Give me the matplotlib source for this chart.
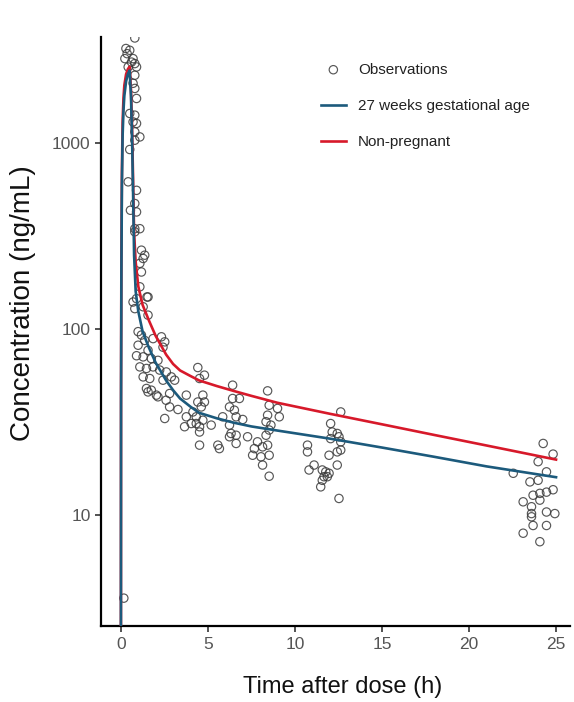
import matplotlib
matplotlib.use('Agg')
import matplotlib.pyplot as plt
import numpy as np

plt.rcParams['font.family'] = ['Liberation Sans', 'DejaVu Sans']

# model predictions
t_curve = [0, 0.01, 0.03, 0.06, 0.1, 0.15, 0.2, 0.3, 0.4, 0.5, 0.58, 0.64, 0.7,
           0.76, 0.85, 1.0, 1.25, 1.6, 2.0, 2.6, 3.0, 3.4, 4.0, 4.5, 5.5, 6.5,
           7.5, 9.0, 12.0, 15.0, 18.0, 21.0, 25.0]
preg_27wk = [0.5, 40, 200, 600, 1100, 1500, 1800, 2150, 2350, 2460, 1800, 1100,
             550, 250, 160, 125, 97, 80, 66, 53, 47, 42.4, 38.3, 35.5, 33.2,
             31.4, 30.0, 28.5, 25.8, 23.1, 20.6, 18.3, 16.0]
non_preg = [0.5, 50, 250, 700, 1300, 1750, 2050, 2350, 2500, 2580, 1950, 1250,
            650, 330, 230, 170, 135, 112, 92, 73, 65, 60, 56, 53, 49.5, 46.5,
            43.8, 40.2, 35.1, 30.8, 27.0, 23.7, 19.9]

# observed concentrations (time h, conc ng/mL)
obs_t = [0.8, 0.29, 0.36, 0.51, 0.23, 0.7, 0.8, 0.61, 0.42, 0.9, 0.8, 0.7, 0.8,
         0.9, 0.51, 0.8, 0.7, 0.9, 0.8, 1.09, 0.8,
         0.51, 0.42, 0.9, 0.8, 0.55, 0.9, 0.8, 1.09, 0.8, 1.18, 1.37, 1.28, 1.09,
         1.18, 1.09, 1.56, 0.9,
         1.5, 0.7, 0.8, 1.28, 1.56, 0.99, 1.18, 1.37, 1.85, 2.33, 2.52, 2.42,
         0.99, 1.56, 0.9, 1.28, 1.75, 2.13, 1.09, 1.47, 1.85, 2.23, 2.61, 1.28,
         1.66, 2.42, 2.9, 4.42, 4.52, 1.47, 1.75, 2.04, 2.8, 3.76, 4.71,
         1.56, 2.6, 2.8, 2.52, 3.28, 3.76, 3.66, 4.33, 2.13, 3.09,
         4.8, 6.42, 6.42, 6.81, 8.43, 8.52, 9.0, 9.1, 8.43, 4.42, 4.8, 4.62, 4.14,
         4.33, 4.71, 5.19, 4.52, 4.04, 4.52, 6.24, 6.52, 6.62, 7.0, 5.85, 6.24,
         6.33, 6.62, 6.24, 7.28, 6.62, 5.57, 5.66, 4.52, 8.34, 8.62, 8.52, 8.34,
         7.85, 8.43, 8.14, 7.67, 7.57, 8.05, 8.52, 8.14, 8.52,
         12.63, 12.05, 12.14, 12.43, 12.53, 12.05, 12.63, 12.63, 12.43, 10.72,
         10.72, 11.96, 12.43, 11.1, 10.81, 11.57, 11.77, 11.96, 11.67, 11.86,
         11.57, 11.48, 12.53,
         24.26, 24.83, 23.97, 22.54, 24.45, 23.5, 23.97, 24.83, 24.45, 24.07,
         23.68, 23.11, 24.07, 23.59, 23.59, 24.45, 24.93, 23.59, 23.68, 24.45,
         23.11, 24.07,
         0.17]
obs_c = [3680, 3230, 3030, 3160, 2850, 2850, 2680, 2730, 2570, 2570, 2320, 2100,
         1970, 1740, 1445, 1415, 1302, 1277, 1151, 1081, 1038,
         925, 620, 558, 474, 436, 427, 347, 347, 334, 266, 250, 240, 226, 203,
         169, 149, 146,
         149, 140, 129, 132, 119, 97, 93, 87, 89, 91, 85.5, 80, 82, 77, 72, 71,
         69.5, 68, 62.7, 61.5, 62.7, 60.3, 58.9, 55.4, 54.3, 53.2, 55.4, 62.2,
         54.3, 48, 47, 44.2, 45.1, 44.2, 44.2,
         46, 41.5, 38.2, 33.1, 37, 33.8, 29.9, 31.1, 43.3, 53.2,
         56.6, 50, 42.4, 42.4, 46.6, 39, 37.5, 33.8, 34.5, 40.6, 40.6, 38.2, 35.9,
         33.8, 32.4, 30.5, 29.9, 31.1, 28, 38.2, 36.7, 33.8, 32.7, 33.8, 30.5,
         27.5, 26.9, 26.4, 26.4, 24.3, 23.8, 22.8, 23.8, 31.8, 30.5, 28.7, 26.9,
         24.8, 23.8, 23.3, 22.8, 21, 20.6, 21, 18.6, 16.2,
         35.9, 31.1, 28, 27.5, 26.4, 25.8, 24.8, 22.4, 21.9, 23.8, 21.9, 21,
         18.6, 18.6, 17.5, 17.5, 17.1, 16.8, 16.1, 16.1, 15.4, 14.2, 12.3,
         24.3, 21.3, 19.4, 16.8, 17.1, 15.1, 15.4, 13.7, 13.3, 13.1, 12.8, 11.8,
         12.05, 11.1, 10.2, 10.4, 10.2, 9.8, 8.8, 8.8, 8.0, 7.2,
         3.58]

fig = plt.figure(figsize=(5.74, 7.02), dpi=100)
ax = fig.add_axes([0.176, 0.108, 0.817, 0.839])

ax.scatter(obs_t, obs_c, s=36, facecolors='none', edgecolors='#3a3a3a',
           linewidths=0.85, alpha=0.85, label='Observations', zorder=3)
ax.plot(t_curve, non_preg, color='#d7192a', lw=1.9, label='Non-pregnant', zorder=4)
ax.plot(t_curve, preg_27wk, color='#1c5a7c', lw=1.9,
        label='27 weeks gestational age', zorder=5)

ax.set_yscale('log')
ax.set_xlim(-1.14, 25.8)
ax.set_ylim(2.53, 3715)
ax.set_xticks([0, 5, 10, 15, 20, 25])
ax.set_yticks([10, 100, 1000])
ax.set_yticklabels(['10', '100', '1000'])
ax.minorticks_off()

for s in ['top', 'right']:
    ax.spines[s].set_visible(False)
for s in ['left', 'bottom']:
    ax.spines[s].set_linewidth(1.6)
ax.tick_params(length=4, width=1.2, color='#333333', labelcolor='#555555',
               labelsize=12.5)

ax.set_xlabel('Time after dose (h)', fontsize=17, color='#111111')
ax.set_ylabel('Concentration (ng/mL)', fontsize=20, color='#111111')
ax.xaxis.set_label_coords(0.515, -0.085)
ax.yaxis.set_label_coords(-0.138, 0.548)

handles, labels = ax.get_legend_handles_labels()
order = [0, 2, 1]
ax.legend([handles[i] for i in order], [labels[i] for i in order],
          loc='upper left', bbox_to_anchor=(0.44, 0.98), frameon=False,
          fontsize=11, handlelength=1.6, labelspacing=1.45, labelcolor='#222222')

fig.savefig('out.png', dpi=100)
